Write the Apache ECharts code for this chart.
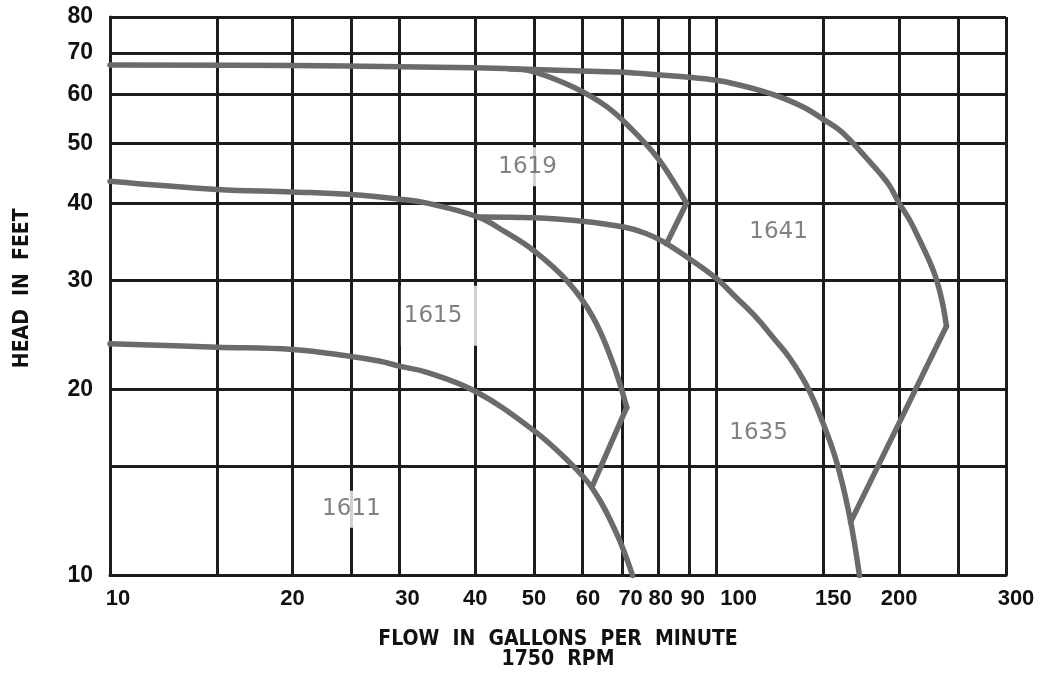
<!DOCTYPE html>
<html>
<head>
<meta charset="utf-8">
<title>Pump curves 1750 RPM</title>
<script src="https://cdn.jsdelivr.net/npm/echarts@6/dist/echarts.min.js"></script>
<style>
  html, body { margin: 0; padding: 0; background: #fff; }
  #main { width: 1042px; height: 675px; }
</style>
</head>
<body>
<div id="main"></div>
<script>
// grid / tick values
var xTicks = [10, 15, 20, 25, 30, 40, 50, 60, 70, 80, 90, 100, 150, 200, 250, 300];
var xLabels = [10, 20, 30, 40, 50, 60, 70, 80, 90, 100, 150, 200, 300];
var yTicks = [10, 15, 20, 30, 40, 50, 60, 70, 80];
var yLabels = [10, 20, 30, 40, 50, 60, 70, 80];

// curves: [gpm, feet]
var curve1641 = [[10, 66.9], [20, 66.8], [30, 66.5], [40, 66.2], [50, 65.8], [60, 65.4], [70, 65.1],
  [80, 64.5], [90, 63.9], [100, 63.2], [109, 62.1], [119, 60.7], [129, 59.1], [140, 57.0], [150.6, 54.5],
  [159.5, 52.5], [167.5, 50.1], [176, 47.5], [185.6, 44.8], [192.8, 42.7], [200, 40.0], [208, 37.6],
  [216, 34.9], [224.4, 32.2], [230.4, 30.1], [235.7, 27.6], [239.3, 25.3]];
var tail1641 = [[239.3, 25.3], [166.3, 12.2]];

var curve1619 = [[45.6, 65.9], [49.8, 65.3], [57.9, 61.7], [65.9, 57.3], [72.7, 52.5], [79.6, 47.6], [84.6, 43.6], [89.2, 40.0]];
var tail1619 = [[89.2, 40.0], [82.7, 34.4]];

var curve1615 = [[10, 43.4], [15, 42.1], [20, 41.7], [25, 41.3], [30, 40.6], [33.3, 40.0], [40.4, 38.0],
  [44.9, 35.9], [49.8, 33.6], [56.6, 30.0], [62.5, 26.2], [67.4, 22.1], [71.1, 18.7]];
var tail1615 = [[71.1, 18.7], [62.5, 14.0]];

var curve1635 = [[40.4, 38.0], [50.1, 37.9], [60.2, 37.4], [70.3, 36.6], [76.1, 35.8], [81.5, 34.7], [90.3, 32.5],
  [100, 30.2], [107.9, 28.1], [116.4, 26.1], [124.6, 24.1], [131.9, 22.5], [140.7, 20.3], [148.9, 17.9],
  [157.6, 15.3], [165.6, 12.5], [172, 10]];

var curve1611 = [[10, 23.7], [15, 23.4], [20, 23.2], [25, 22.6], [27.9, 22.2], [30, 21.8], [33.3, 21.3], [40.2, 19.8],
  [49.8, 17.2], [56.6, 15.4], [62.5, 13.8], [68.4, 11.7], [72.7, 10]];

// model labels
var modelNames = ['1641', '1619', '1615', '1635', '1611'];
var modelX = [126.5, 48.8, 35.2, 117.3, 25.0];
var modelY = [35.9, 45.8, 26.3, 17.0, 12.8];

var curveColor = '#6b6b6b';
var gridColor = '#1c1c1c';
var fontFam = "'Liberation Sans', Arial, sans-serif";
var nameFam = "'DejaVu Sans Condensed', 'Liberation Sans Narrow', 'Liberation Sans', sans-serif";

// hand-placed labels in the original sit a bit right of their lines
var xLabelShift = { 10: 8, 30: 8, 60: 6, 70: 8, 80: 3, 90: 4, 100: 22, 150: 10, 300: 10 };
var xRich = {};
Object.keys(xLabelShift).concat(['0']).forEach(function (k) {
  var s = k === '0' ? 0 : xLabelShift[k];
  xRich['s' + s] = { padding: [0, 0, 0, 2 * s], fontSize: 22, fontWeight: 'bold', color: '#111', fontFamily: fontFam };
});

// white boxes behind model labels (they break the grid lines in the original)
var labelPad = {
  '1615': [25, 20, 12, 3],
  '1611': [5, 4, 9, 4]
};

var myChart = echarts.init(document.getElementById('main'));

function curve(data, smooth) {
  return {
    type: 'line',
    data: data,
    smooth: smooth ? 0.4 : false,
    showSymbol: false,
    silent: true,
    lineStyle: { color: curveColor, width: 5.5, cap: 'round', join: 'miter' },
    z: 3
  };
}

var labelData = modelNames.map(function (n, i) {
  var d = { name: n, value: [modelX[i], modelY[i]] };
  if (labelPad[n]) d.label = { padding: labelPad[n] };
  return d;
});

myChart.setOption({
  animation: false,
  backgroundColor: '#fff',
  grid: { left: 110, right: 36, top: 17, bottom: 99, containLabel: false },
  xAxis: {
    type: 'log',
    logBase: 10,
    min: 10,
    max: 300,
    name: 'FLOW  IN  GALLONS  PER  MINUTE\n1750  RPM',
    nameLocation: 'middle',
    nameGap: 54,
    nameTextStyle: { fontSize: 21, fontWeight: 'bold', color: '#111', fontFamily: nameFam, lineHeight: 20 },
    axisLine: { show: true, lineStyle: { color: gridColor, width: 3 } },
    axisTick: { show: false, customValues: xTicks },
    axisLabel: {
      customValues: xLabels,
      margin: 12,
      formatter: function (v) {
        var r = Math.round(v);
        var s = xLabelShift[r] || 0;
        return '{s' + s + '|' + r + '}';
      },
      rich: xRich
    },
    splitLine: { show: true, lineStyle: { color: gridColor, width: 3 } }
  },
  yAxis: {
    type: 'log',
    logBase: 10,
    min: 10,
    max: 80,
    name: 'HEAD  IN  FEET',
    nameLocation: 'middle',
    nameGap: 77,
    nameTextStyle: { fontSize: 21, fontWeight: 'bold', color: '#111', fontFamily: nameFam, padding: [0, 0, 0, 16] },
    axisLine: { show: true, lineStyle: { color: gridColor, width: 3 } },
    axisTick: { show: false, customValues: yTicks },
    axisLabel: {
      customValues: yLabels,
      margin: 17,
      fontSize: 23,
      fontWeight: 'bold',
      color: '#111',
      fontFamily: fontFam,
      formatter: function (v) { return String(Math.round(v)); }
    },
    splitLine: { show: true, lineStyle: { color: gridColor, width: 3 } }
  },
  series: [
    curve(curve1641, true), curve(tail1641, false),
    curve(curve1619, true), curve(tail1619, false),
    curve(curve1615, true), curve(tail1615, false),
    curve(curve1635, true),
    curve(curve1611, true),
    {
      type: 'scatter',
      data: labelData,
      symbolSize: 1,
      itemStyle: { color: 'rgba(0,0,0,0)' },
      silent: true,
      z: 5,
      label: {
        show: true,
        position: 'inside',
        formatter: '{b}',
        fontSize: 23,
        color: '#626262',
        fontFamily: "'DejaVu Sans', sans-serif",
        backgroundColor: '#fff',
        padding: [8, 4]
      }
    }
  ]
});
</script>
</body>
</html>
